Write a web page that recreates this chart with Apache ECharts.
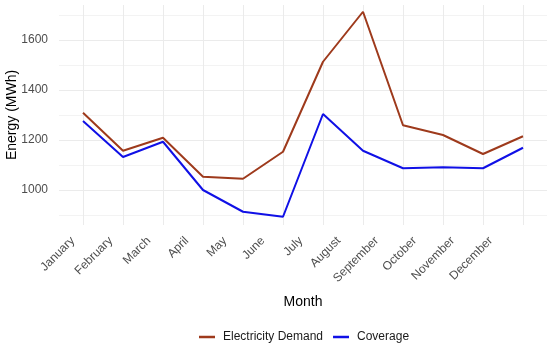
<!DOCTYPE html>
<html><head><meta charset="utf-8">
<script src="https://cdn.jsdelivr.net/npm/echarts@6/dist/echarts.min.js"></script>
<style>html,body{margin:0;padding:0;background:#fff}#c{width:550px;height:348px}</style>
</head><body><div id="c"></div>
<script>
var months = ['January','February','March','April','May','June','July','August','September','October','November','December'];
var demand = [1309,1157,1209,1053,1045,1153,1513,1713,1259,1220,1144,1215];
var coverage = [1276,1132,1193,1000,913,893,1304,1157,1087,1091,1087,1169];
var yMajor = [1000,1200,1400,1600];
var yMinor = [900,1100,1300,1500,1700];
var idx = months.map(function(_,i){return i;});
function pairs(arr){return arr.map(function(v,i){return [i,v];});}
var chart = echarts.init(document.getElementById('c'));
var font = 'Liberation Sans, Arial, sans-serif';
chart.setOption({
  animation:false,
  textStyle:{fontFamily:font},
  grid:{left:59,right:3,top:5,bottom:123,containLabel:false,outerBoundsMode:'none'},
  xAxis:[{type:'value',min:-0.6,max:11.6,
    axisLine:{show:false},
    axisTick:{show:false,customValues:idx},
    axisLabel:{show:false,customValues:idx},
    splitLine:{show:true,lineStyle:{color:'#ebebeb',width:1}},
    name:'Month',nameLocation:'middle',nameGap:70,nameTextStyle:{color:'#000',fontSize:14,fontFamily:font}},
   {type:'value',min:-0.624,max:12.218,position:'bottom',
    axisLine:{show:false},
    axisTick:{show:false,customValues:idx},
    splitLine:{show:false},
    axisLabel:{customValues:idx,rotate:45,margin:4,padding:[0,14,0,0],color:'#4d4d4d',fontSize:12,fontFamily:font,
      formatter:function(v){return months[Math.round(v)];}}}],
  yAxis:[{type:'value',min:860,max:1740,
    axisLine:{show:false},
    axisTick:{show:false,customValues:yMajor},
    axisLabel:{customValues:yMajor,color:'#4d4d4d',fontSize:12,margin:11,fontFamily:font,
      formatter:function(v){return String(v);}},
    splitLine:{show:true,lineStyle:{color:'#ebebeb',width:1}},
    name:'Energy (MWh)',nameLocation:'middle',nameGap:40,nameRotate:90,nameMoveOverlap:false,
    nameTextStyle:{color:'#000',fontSize:14,fontFamily:font}},
   {type:'value',min:860,max:1740,position:'left',
    axisLine:{show:false},
    axisTick:{show:false,customValues:yMinor},
    axisLabel:{show:false,customValues:yMinor},
    splitLine:{show:true,lineStyle:{color:'#f3f3f3',width:1}}}],
  legend:{top:331,left:199,padding:0,icon:'rect',itemWidth:16,itemHeight:2.5,itemGap:10,
    textStyle:{color:'#1a1a1a',fontSize:12,fontFamily:font,padding:[0,0,0,3]},
    data:['Electricity Demand','Coverage']},
  series:[
    {name:'Electricity Demand',type:'line',data:pairs(demand),showSymbol:false,symbol:'none',
     lineStyle:{color:'#9e3a1c',width:2},itemStyle:{color:'#9e3a1c'}},
    {name:'Coverage',type:'line',data:pairs(coverage),showSymbol:false,symbol:'none',
     lineStyle:{color:'#1010e6',width:2},itemStyle:{color:'#1010e6'}}
  ]
});
</script></body></html>
